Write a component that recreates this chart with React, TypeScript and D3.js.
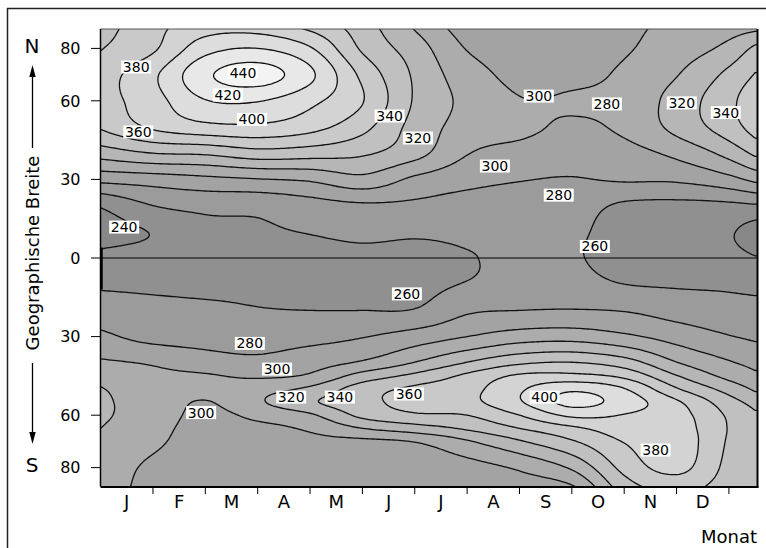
import React, { useMemo } from 'react';
import * as d3 from 'd3';

// ---- data (total ozone, Dobson units) ----
const MONTH_LABELS = ['J', 'F', 'M', 'A', 'M', 'J', 'J', 'A', 'S', 'O', 'N', 'D'];
const MONTH_TICKS = [1, 2, 3, 4, 5, 6, 7, 8, 9, 10, 11, 12];
const LAT_TICKS = [80, 60, 30, 0, -30, -60, -80];
const LEVELS = [240, 260, 280, 300, 320, 340, 360, 380, 400, 420, 440];

// grid positions: month index (0 = 1 Jan) and latitude (N positive)
const GRID_MONTHS = [0, 1, 2, 3, 4, 5, 6, 7, 8, 9, 10, 11, 12, 12.5];
const GRID_LATS = [87.5, 80, 70, 60, 50, 40, 30, 20, 10, 0, -10, -20, -30, -40, -45, -50, -55, -60, -65, -70, -80, -87.5];

// one column of values per grid month, from 87.5N down to 87.5S
const OZONE_COLUMNS: number[][] = [
  [352, 359, 370, 371, 362, 329, 286, 242, 233, 245, 257, 270, 284, 303, 313, 321, 323, 323, 320, 316, 312, 311],
  [374, 377, 396, 392, 383, 340, 290, 260, 241, 248, 256, 266, 274, 298, 305, 309, 311, 310, 307, 304, 296, 293],
  [392, 412, 436, 419, 394, 343, 295, 266, 253, 250, 255, 264, 273, 289, 302, 306, 299, 295, 292, 290, 288, 287],
  [393, 420, 449, 421, 396, 352, 299, 266, 257, 252, 256, 261, 272, 285, 297, 313, 317, 305, 295, 290, 286, 285],
  [377, 402, 424, 405, 387, 349, 303, 272, 261, 253, 255, 260, 274, 292, 303, 324, 337, 317, 303, 295, 288, 287],
  [350, 357, 375, 381, 366, 343, 314, 277, 265, 255, 255, 260, 279, 303, 328, 350, 354, 345, 320, 296, 288, 287],
  [319, 330, 337, 338, 333, 327, 296, 276, 263, 254, 255, 261, 289, 321, 345, 364, 367, 357, 331, 301, 290, 289],
  [292, 299, 309, 315, 312, 301, 286, 272, 264, 259, 261, 277, 300, 341, 364, 373, 374, 360, 343, 318, 293, 289],
  [291, 292, 295, 301, 305, 293, 281, 270, 265, 263, 267, 280, 310, 357, 383, 397, 398, 380, 360, 338, 303, 290],
  [290, 291, 295, 302, 297, 288, 279, 269, 264, 262, 267, 281, 312, 361, 385, 416, 426, 404, 376, 358, 323, 297],
  [296, 298, 303, 306, 304, 293, 282, 257, 251, 252, 260, 279, 304, 350, 375, 401, 411, 399, 390, 381, 366, 350],
  [305, 310, 319, 328, 326, 305, 283, 255, 247, 249, 258, 272, 292, 321, 341, 362, 383, 388, 390, 392, 386, 366],
  [312, 326, 345, 355, 351, 327, 294, 256, 242, 246, 257, 267, 281, 302, 314, 332, 348, 357, 359, 358, 355, 352],
  [316, 344, 361, 372, 368, 344, 305, 258, 232, 241, 255, 266, 277, 295, 304, 317, 333, 343, 348, 350, 350, 349],
];

// contour labels: value, month position, latitude
const LABEL_VALUES = [380, 360, 440, 420, 400, 340, 320, 300, 280, 320, 340, 300, 280, 240, 260, 260, 280, 300, 320, 340, 360, 400, 380, 300];
const LABEL_MONTHS = [0.68, 0.72, 2.72, 2.43, 2.89, 5.52, 6.06, 8.37, 9.67, 11.1, 11.94, 7.53, 8.75, 0.45, 9.44, 5.85, 2.85, 3.37, 3.64, 4.57, 5.89, 8.48, 10.6, 1.92];
const LABEL_LATS = [72.9, 48.1, 70.8, 62.2, 52.9, 54.2, 45.8, 61.8, 58.8, 59.2, 55.5, 35.1, 24.0, 11.8, 4.4, -13.7, -32.6, -42.4, -53.1, -53.1, -51.9, -53.1, -73.3, -59.0];

// fill for the band below each level and above the last
const BASE_COLOR = '#888888';
const BAND_COLORS = ['#909090', '#9b9b9b', '#a3a3a3', '#acacac', '#b6b6b6', '#c0c0c0', '#c9c9c9', '#d3d3d3', '#dddddd', '#e8e8e8', '#f3f3f3'];

function hermite(xs: number[], ys: number[], xq: number): number {
  const n = xs.length;
  if (xq <= xs[0]) return ys[0];
  if (xq >= xs[n - 1]) return ys[n - 1];
  let i = 0;
  while (i < n - 2 && xq > xs[i + 1]) i++;
  const slope = (k: number) => {
    if (k === 0) return (ys[1] - ys[0]) / (xs[1] - xs[0]);
    if (k === n - 1) return (ys[n - 1] - ys[n - 2]) / (xs[n - 1] - xs[n - 2]);
    return 0.5 * ((ys[k + 1] - ys[k]) / (xs[k + 1] - xs[k]) + (ys[k] - ys[k - 1]) / (xs[k] - xs[k - 1]));
  };
  const h = xs[i + 1] - xs[i];
  const t = (xq - xs[i]) / h;
  const t2 = t * t, t3 = t2 * t;
  return (2 * t3 - 3 * t2 + 1) * ys[i] + (t3 - 2 * t2 + t) * h * slope(i) +
    (-2 * t3 + 3 * t2) * ys[i + 1] + (t3 - t2) * h * slope(i + 1);
}

const FONT = 'DejaVu Sans';

export default function App() {
  const W = 766, H = 548;
  const plot = { left: 100.5, right: 757, top: 29, bottom: 486.5 };
  const x = d3.scaleLinear().domain([0, 12.5]).range([100.6, 755.1]);
  const y = d3.scaleLinear().domain([-87.5, 87.5]).range([487.25, 28.75]);

  const { paths } = useMemo(() => {
    const latsAsc = GRID_LATS.slice().reverse();
    const colsAsc = OZONE_COLUMNS.map((c) => c.slice().reverse());
    const m0 = -0.15, dm = 0.05;
    const nx = Math.round((12.7 - m0) / dm) + 1;
    const lat0 = 89, dl = 0.5;
    const ny = Math.round((2 * lat0) / dl) + 1;
    const colFine = colsAsc.map((col) => d3.range(ny).map((j) => hermite(latsAsc, col, lat0 - j * dl)));
    const values: number[] = new Array(nx * ny);
    for (let j = 0; j < ny; j++) {
      const row = colFine.map((c) => c[j]);
      for (let i = 0; i < nx; i++) values[j * nx + i] = hermite(GRID_MONTHS, row, m0 + i * dm);
    }
    const contours = d3.contours().size([nx, ny]).thresholds(LEVELS)(values);
    const proj = d3.geoTransform({
      point: function (px: number, py: number) {
        (this as any).stream.point(x(m0 + (px - 0.5) * dm), y(lat0 - (py - 0.5) * dl));
      },
    });
    const gp = d3.geoPath(proj as any);
    return { paths: contours.map((c) => gp(c as any) || '') };
  }, []);

  return (
    <svg width={W} height={H} style={{ position: 'absolute', left: 0, top: 0, background: '#fff' }}>
      <rect x={0} y={0} width={W} height={H} fill="#fff" />
      <defs>
        <clipPath id="plotClip">
          <rect x={plot.left} y={plot.top} width={plot.right - plot.left} height={plot.bottom - plot.top} />
        </clipPath>
      </defs>
      {/* outer frame */}
      <line x1={7} x2={W} y1={8.5} y2={8.5} stroke="#222" strokeWidth={1.5} />
      <line x1={7.5} x2={7.5} y1={8} y2={H} stroke="#222" strokeWidth={1.5} />

      <g clipPath="url(#plotClip)">
        <rect x={plot.left} y={plot.top} width={plot.right - plot.left} height={plot.bottom - plot.top} fill={BASE_COLOR} />
        {paths.map((d, i) => (
          <path key={'f' + i} d={d} fill={BAND_COLORS[i]} fillRule="evenodd" stroke="none" />
        ))}
        {paths.map((d, i) => (
          <path key={'s' + i} d={d} fill="none" stroke="#111" strokeWidth={1.3} />
        ))}
        <line x1={plot.left} x2={plot.right} y1={y(0)} y2={y(0)} stroke="#000" strokeWidth={1.2} />
      </g>

      {/* plot borders */}
      <line x1={plot.left} x2={plot.right} y1={plot.top} y2={plot.top} stroke="#555" strokeWidth={1} />
      <line x1={plot.left} x2={plot.left} y1={plot.top} y2={plot.bottom} stroke="#000" strokeWidth={1.5} />
      <line x1={plot.left + 1} x2={plot.left + 1} y1={y(4)} y2={y(-12)} stroke="#000" strokeWidth={2.5} />
      <line x1={plot.right + 0.5} x2={plot.right + 0.5} y1={plot.top} y2={plot.bottom + 1} stroke="#000" strokeWidth={2} />
      <line x1={plot.left} x2={plot.right + 1.5} y1={plot.bottom + 0.5} y2={plot.bottom + 0.5} stroke="#000" strokeWidth={2} />

      {/* contour labels */}
      {LABEL_VALUES.map((v, i) => {
        const cx = x(LABEL_MONTHS[i]);
        const cy = y(LABEL_LATS[i]);
        return (
          <g key={'l' + i}>
            <rect x={cx - 15} y={cy - 6.5} width={30} height={13} fill="#fff" />
            <text x={cx} y={cy + 5} textAnchor="middle" fontSize={14} fontFamily={FONT} fill="#000">{v}</text>
          </g>
        );
      })}

      {/* y axis */}
      {LAT_TICKS.map((t, i) => (
        <g key={'yt' + i}>
          <line x1={91} x2={plot.left} y1={y(t)} y2={y(t)} stroke="#000" strokeWidth={1} />
          <text x={80.5} y={y(t) + 5.8} textAnchor="end" fontSize={16} fontFamily={FONT} fill="#000">{Math.abs(t)}</text>
        </g>
      ))}
      {/* x axis */}
      {MONTH_TICKS.map((t, i) => (
        <line key={'xt' + i} x1={x(t)} x2={x(t)} y1={plot.bottom} y2={494} stroke="#000" strokeWidth={1} />
      ))}
      {MONTH_LABELS.map((m, i) => (
        <text key={'xl' + i} x={x(i + 0.5)} y={508} textAnchor="middle" fontSize={18} fontFamily={FONT} fill="#000">{m}</text>
      ))}
      <text x={757} y={543} textAnchor="end" fontSize={18} fontFamily={FONT} fill="#000">Monat</text>

      {/* latitude title with arrows */}
      <text transform="translate(38.5,253) rotate(-90)" textAnchor="middle" fontSize={18} fontFamily={FONT} fill="#000">Geographische Breite</text>
      <text x={32} y={53} textAnchor="middle" fontSize={20} fontFamily={FONT} fill="#000">N</text>
      <text x={32} y={472} textAnchor="middle" fontSize={20} fontFamily={FONT} fill="#000">S</text>
      <line x1={32.5} x2={32.5} y1={76} y2={148} stroke="#000" strokeWidth={1.3} />
      <path d="M32.5,65 L29.3,77 L35.7,77 Z" fill="#000" />
      <line x1={32.5} x2={32.5} y1={363} y2={433} stroke="#000" strokeWidth={1.3} />
      <path d="M32.5,444 L29.3,432 L35.7,432 Z" fill="#000" />
    </svg>
  );
}
